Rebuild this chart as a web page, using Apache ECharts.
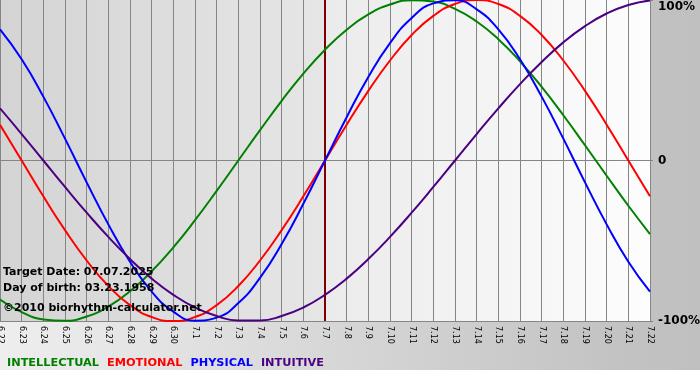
<!DOCTYPE html>
<html>
<head>
<meta charset="utf-8">
<script src="https://cdn.jsdelivr.net/npm/echarts@6/dist/echarts.min.js"></script>
<style>html,body{margin:0;padding:0;background:#fff;}#c{width:700px;height:380px;}</style>
</head>
<body>
<div id="c"></div>
<script>
var days = ['6.22','6.23','6.24','6.25','6.26','6.27','6.28','6.29','6.30','7.1','7.2','7.3','7.4','7.5','7.6','7.7','7.8','7.9','7.10','7.11','7.12','7.13','7.14','7.15','7.16','7.17','7.18','7.19','7.20','7.21','7.22'];
var targetDay = '7.7';
var intellectual = [-86.6,-94.5,-99.0,-99.9,-97.2,-91.0,-81.5,-69.0,-54.1,-37.2,-18.9,0,18.9,37.2,54.1,69.0,81.5,91.0,97.2,99.9,99.0,94.5,86.6,75.6,61.8,45.8,28.2,9.5,-9.5,-28.2,-45.8];
var emotional = [22.3,0,-22.3,-43.4,-62.3,-78.2,-90.1,-97.5,-100,-97.5,-90.1,-78.2,-62.3,-43.4,-22.3,0,22.3,43.4,62.3,78.2,90.1,97.5,100,97.5,90.1,78.2,62.3,43.4,22.3,0,-22.3];
var physical = [81.7,63.1,39.8,13.6,-13.6,-39.8,-63.1,-81.7,-94.2,-99.8,-97.9,-88.8,-73.1,-52.0,-27.0,0,27.0,52.0,73.1,88.8,97.9,99.8,94.2,81.7,63.1,39.8,13.6,-13.6,-39.8,-63.1,-81.7];
var intuitive = [32.5,16.5,0,-16.5,-32.5,-47.6,-61.4,-73.6,-83.7,-91.6,-96.9,-99.7,-99.7,-96.9,-91.6,-83.7,-73.6,-61.4,-47.6,-32.5,-16.5,0,16.5,32.5,47.6,61.4,73.6,83.7,91.6,96.9,99.7];
var seriesNames = ['INTELLECTUAL','EMOTIONAL','PHYSICAL','INTUITIVE'];
var seriesColors = ['#008000','#ff0000','#0000ff','#4b0082'];
var infoLines = ['Target Date: 07.07.2025','Day of birth: 03.23.1958','\u00a92010 biorhythm-calculator.net'];

var chart = echarts.init(document.getElementById('c'), null, {renderer:'canvas'});
var values = [intellectual, emotional, physical, intuitive];
var series = values.map(function(v, i){
  return {
    name: seriesNames[i], type:'line', data:v, smooth:true, symbol:'none',
    lineStyle:{color:seriesColors[i], width:2}, itemStyle:{color:seriesColors[i]}, z: 4
  };
});
series[0].markLine = {
  silent:true, symbol:'none', label:{show:false}, z:3,
  data:[{xAxis:targetDay, lineStyle:{color:'#800000', width:2, type:'solid'}}]
};
series.unshift({
  name:'bg', type:'line', data:[], z:0, silent:true,
  markArea:{
    silent:true, z:0,
    data:[
      [{xAxis:days[0], itemStyle:{color:{type:'linear',x:0,y:0,x2:1,y2:0,colorStops:[{offset:0,color:'#d4d4d4'},{offset:1,color:'#e6e6e6'}]}}},{xAxis:targetDay}],
      [{xAxis:targetDay, itemStyle:{color:{type:'linear',x:0,y:0,x2:1,y2:0,colorStops:[{offset:0,color:'#ebebeb'},{offset:1,color:'#fdfdfd'}]}}},{xAxis:days[days.length-1]}]
    ]
  }
});

var graphics = [{
  type:'rect', z:-10, silent:true,
  shape:{x:0,y:0,width:700,height:370},
  style:{fill:{type:'linear',x:0,y:0,x2:1,y2:0,colorStops:[{offset:0,color:'#eeeeee'},{offset:0.9,color:'#c2c2c2'},{offset:1,color:'#c0c0c0'}]}}
}];
infoLines.forEach(function(t, i){
  graphics.push({type:'text', z:100, left:3, top:267 + i*16 + (i===2?4:0),
    style:{text:t, fill:'#000', font:'bold 11px "DejaVu Sans", Verdana, sans-serif'}});
});

chart.setOption({
  animation:false,
  graphic: graphics,
  grid:{left:0, right:50, top:0, height:321, containLabel:false, outerBoundsMode:'none'},
  legend:{
    top:351, left:-3, icon:'none', itemWidth:0, itemGap:3, selectedMode:false,
    textStyle:{fontFamily:'"DejaVu Sans", Verdana, sans-serif', fontWeight:'bold', fontSize:11.3},
    data: seriesNames.map(function(n,i){return {name:n, textStyle:{color:seriesColors[i]}};})
  },
  xAxis:{
    type:'category', data:days, boundaryGap:false, z:2,
    axisLine:{show:true, lineStyle:{color:'#858585', width:1}},
    axisTick:{show:true, length:3, interval:0, lineStyle:{color:'#858585'}},
    axisLabel:{interval:0, rotate:-90, margin:5, color:'#000', fontSize:8, fontFamily:'"DejaVu Sans", Verdana, sans-serif'},
    splitLine:{show:true, interval:0, lineStyle:{color:'#858585', width:1}}
  },
  yAxis:{
    type:'value', min:-100, max:100, interval:100, position:'right', z:2,
    axisLine:{show:false},
    axisTick:{show:true, length:3, lineStyle:{color:'#858585'}},
    splitLine:{show:true, lineStyle:{color:['#858585','#858585','rgba(0,0,0,0)'], width:1}},
    axisLabel:{margin:8, color:'#000', fontSize:12, fontWeight:'bold', lineHeight:14,
      fontFamily:'"DejaVu Sans", Verdana, sans-serif',
      formatter:function(v){ if(v===100) return '\n100%'; if(v===-100) return '-100%'; return '0'; }}
  },
  series: series
});
</script>
</body>
</html>
